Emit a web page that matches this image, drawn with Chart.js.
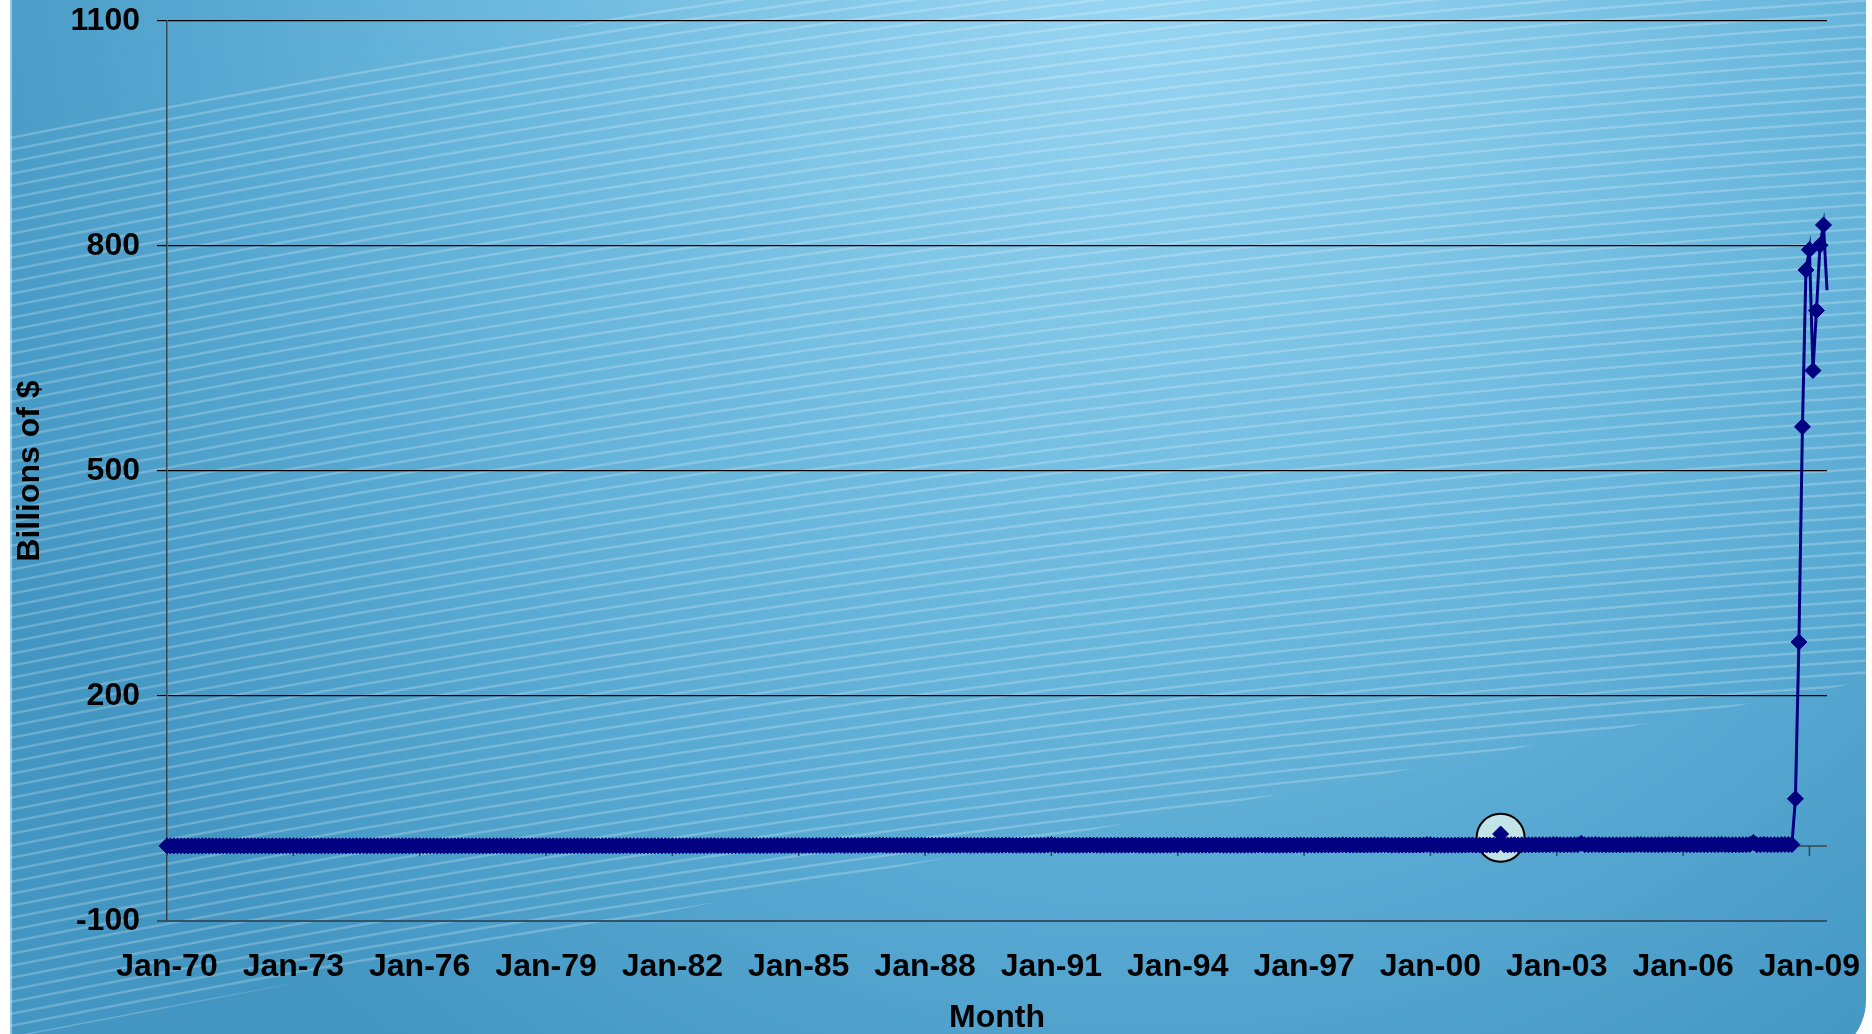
<!DOCTYPE html>
<html><head><meta charset="utf-8">
<script src="https://cdn.jsdelivr.net/npm/chart.js@4.4.1/dist/chart.umd.min.js"></script>
<style>html,body{margin:0;padding:0;background:#fff;overflow:hidden}#wrap{width:1872px;height:1034px;position:relative}canvas{display:block}</style>
</head><body><div id="wrap"><canvas id="c" width="1872" height="1034"></canvas></div>
<script>
// ---- data ----
const monthNames = ['Jan','Feb','Mar','Apr','May','Jun','Jul','Aug','Sep','Oct','Nov','Dec'];
const years = ['70','71','72','73','74','75','76','77','78','79','80','81','82','83','84','85','86','87','88','89','90','91','92','93','94','95','96','97','98','99','00','01','02','03','04','05','06','07','08','09'];
const monthsInLastYear = 6;
const categories = [];
years.forEach((yy, yi) => {
  const n = yi === years.length - 1 ? monthsInLastYear : 12;
  for (let m = 0; m < n; m++) categories.push(monthNames[m] + '-' + yy);
});
// Excess reserves, billions of $ (monthly)
const excessReserves = [
  0.20,0.15,0.18,0.16,0.19,0.14,0.17,0.15,0.21,0.16,0.19,0.27, // 1970
  0.24,0.17,0.20,0.15,0.18,0.16,0.19,0.14,0.20,0.17,0.21,0.28, // 1971
  0.25,0.16,0.19,0.17,0.20,0.15,0.18,0.16,0.22,0.18,0.20,0.30, // 1972
  0.26,0.18,0.21,0.16,0.22,0.17,0.20,0.15,0.23,0.19,0.22,0.31, // 1973
  0.27,0.19,0.22,0.18,0.21,0.16,0.24,0.17,0.25,0.20,0.23,0.29, // 1974
  0.28,0.20,0.24,0.19,0.23,0.18,0.22,0.19,0.26,0.21,0.24,0.32, // 1975
  0.27,0.21,0.23,0.18,0.24,0.19,0.23,0.18,0.25,0.22,0.25,0.33, // 1976
  0.26,0.19,0.22,0.17,0.21,0.18,0.20,0.17,0.24,0.19,0.22,0.30, // 1977
  0.27,0.20,0.23,0.19,0.22,0.18,0.21,0.19,0.25,0.20,0.24,0.34, // 1978
  0.30,0.22,0.26,0.21,0.25,0.20,0.24,0.21,0.28,0.23,0.27,0.38, // 1979
  0.36,0.27,0.31,0.29,0.33,0.30,0.35,0.28,0.37,0.32,0.39,0.52, // 1980
  0.44,0.30,0.34,0.28,0.31,0.27,0.30,0.29,0.33,0.31,0.36,0.45, // 1981
  0.43,0.35,0.39,0.33,0.40,0.37,0.42,0.38,0.46,0.41,0.48,0.62, // 1982
  0.55,0.42,0.46,0.41,0.45,0.43,0.47,0.44,0.51,0.48,0.53,0.66, // 1983
  0.60,0.49,0.54,0.50,0.58,0.62,0.81,0.55,0.60,0.57,0.63,0.78, // 1984
  0.72,0.61,0.66,0.63,0.70,0.68,0.75,0.71,0.79,0.74,0.82,1.21, // 1985
  0.95,0.78,0.85,0.82,0.90,0.87,0.94,0.89,1.02,0.96,1.05,1.44, // 1986
  1.12,0.86,0.93,0.91,0.98,0.88,0.95,0.90,1.01,0.97,1.03,1.25, // 1987
  1.10,0.87,0.94,0.89,0.96,0.90,0.97,0.92,1.04,0.95,1.02,1.21, // 1988
  1.06,0.84,0.91,0.86,0.93,0.88,0.95,0.89,1.00,0.94,1.01,1.18, // 1989
  1.12,0.89,0.95,0.90,0.98,0.93,1.00,0.95,1.06,0.99,1.08,1.47, // 1990
  2.04,1.08,1.02,0.96,1.04,0.98,1.05,0.99,1.10,1.03,1.12,1.35, // 1991
  1.22,0.97,1.04,0.99,1.06,1.01,1.08,1.02,1.13,1.07,1.16,1.41, // 1992
  1.18,0.94,1.01,0.96,1.03,0.98,1.05,1.00,1.11,1.04,1.12,1.34, // 1993
  1.20,0.96,1.03,0.98,1.05,1.00,1.07,1.01,1.12,1.06,1.14,1.38, // 1994
  1.16,0.93,1.00,0.95,1.02,0.97,1.04,0.98,1.09,1.03,1.11,1.30, // 1995
  1.24,1.01,1.09,1.04,1.12,1.06,1.14,1.08,1.19,1.13,1.22,1.45, // 1996
  1.32,1.10,1.18,1.13,1.21,1.15,1.23,1.17,1.29,1.22,1.31,1.55, // 1997
  1.41,1.18,1.26,1.20,1.29,1.23,1.31,1.25,1.38,1.30,1.40,1.62, // 1998
  1.35,1.12,1.20,1.15,1.23,1.17,1.25,1.19,1.31,1.24,1.36,1.85, // 1999
  1.64,1.05,1.12,1.07,1.14,1.09,1.16,1.10,1.21,1.15,1.24,1.48, // 2000
  1.42,1.18,1.26,1.21,1.29,1.24,1.32,1.27,16.0,1.55,1.43,1.69, // 2001
  1.72,1.48,1.56,1.51,1.59,1.53,1.61,1.55,1.67,1.60,1.69,1.95, // 2002
  1.86,1.59,1.67,1.62,1.70,1.64,1.72,3.65,1.80,1.73,1.82,2.08, // 2003
  1.78,1.52,1.60,1.55,1.63,1.57,1.65,1.59,1.71,1.64,1.73,1.98, // 2004
  1.84,1.58,1.66,1.61,1.69,1.63,1.71,1.65,2.12,1.70,1.79,2.04, // 2005
  1.87,1.61,1.69,1.64,1.72,1.66,1.74,1.68,1.80,1.73,1.82,2.06, // 2006
  1.83,1.57,1.65,1.60,1.68,1.62,1.70,2.10,4.80,1.72,1.81,2.18, // 2007
  1.76,1.67,1.82,1.74,1.90,1.96,1.88,1.91,63.0,272.0,559.0,768.0, // 2008
  795.0,634.0,714.0,801.0,828.0,741.0 // 2009
];
const xTickLabels = ['Jan-70','Jan-73','Jan-76','Jan-79','Jan-82','Jan-85','Jan-88','Jan-91','Jan-94','Jan-97','Jan-00','Jan-03','Jan-06','Jan-09'];
const yTicks = [-100, 200, 500, 800, 1100];
const highlightLabel = 'Sep-01';
const highlightCenterValue = 11;

// ---- decoration plugins ----
const background = {
  id: 'background',
  beforeDraw(chart) {
    const ctx = chart.ctx, W = chart.width, H = chart.height;
    ctx.save();
    ctx.fillStyle = '#ffffff';
    ctx.fillRect(0, 0, W, H);
    ctx.beginPath();
    ctx.moveTo(10, 0);
    ctx.lineTo(1866, 0);
    ctx.lineTo(1866, 1000);
    ctx.arc(1806, 1000, 60, 0, Math.PI / 2);
    ctx.lineTo(10, 1060);
    ctx.closePath();
    ctx.clip();
    ctx.save();
    ctx.translate(1150, -100);
    ctx.scale(1300 / 1400, 1);
    const g = ctx.createRadialGradient(0, 0, 0, 0, 0, 1400);
    g.addColorStop(0, '#9ddaf5');
    g.addColorStop(0.15, '#90d0ee');
    g.addColorStop(0.45, '#70bce0');
    g.addColorStop(0.75, '#55a7d1');
    g.addColorStop(1, '#4396c2');
    ctx.fillStyle = g;
    ctx.fillRect(-3000, -3000, 6000, 6000);
    ctx.restore();
    // stripes
    ctx.save();
    ctx.beginPath();
    ctx.moveTo(0, 135); ctx.lineTo(710, 0); ctx.lineTo(1872, 0); ctx.lineTo(1872, 680); ctx.lineTo(0, 1040);
    ctx.closePath();
    ctx.clip();
    ctx.strokeStyle = 'rgba(255,255,255,0.22)';
    ctx.lineWidth = 2.5;
    for (let k = -100; k < 1400; k += 12) {
      ctx.beginPath();
      ctx.moveTo(0, k);
      ctx.quadraticCurveTo(936, k - 187, 1872, k - 248);
      ctx.stroke();
    }
    ctx.restore();
    // light left strip
    ctx.fillStyle = 'rgba(220,245,250,0.5)';
    ctx.fillRect(10, 0, 2, H);
    ctx.restore();
  }
};

const zeroAxis = {
  id: 'zeroAxis',
  beforeDatasetsDraw(chart) {
    const ctx = chart.ctx, xs = chart.scales.x, ys = chart.scales.y, a = chart.chartArea;
    const y0 = ys.getPixelForValue(0);
    ctx.save();
    ctx.strokeStyle = '#3b4750';
    ctx.lineWidth = 1.5;
    ctx.beginPath();
    ctx.moveTo(a.left, y0); ctx.lineTo(a.right, y0);
    categories.forEach((c, i) => {
      if (xTickLabels.includes(c)) {
        const x = xs.getPixelForValue(i);
        ctx.moveTo(x, y0); ctx.lineTo(x, y0 + 10);
      }
    });
    ctx.stroke();
    // highlight circle
    const hi = categories.indexOf(highlightLabel);
    const cx = xs.getPixelForValue(hi), cy = ys.getPixelForValue(highlightCenterValue);
    ctx.beginPath();
    ctx.arc(cx, cy, 24, 0, Math.PI * 2);
    ctx.fillStyle = '#c2e4e8';
    ctx.fill();
    ctx.strokeStyle = '#000';
    ctx.lineWidth = 2;
    ctx.stroke();
    ctx.restore();
  }
};

const font = { family: '"Liberation Sans", Arial, sans-serif', weight: 'bold', size: 32 };
const lastIndex = excessReserves.length - 1;

new Chart(document.getElementById('c'), {
  type: 'line',
  data: {
    labels: categories,
    datasets: [{
      data: excessReserves,
      borderColor: '#000080',
      borderWidth: 3,
      pointStyle: 'rectRot',
      pointRadius: ctx => ctx.dataIndex === lastIndex ? 0 : 8,
      pointBackgroundColor: '#000080',
      pointBorderColor: '#000080',
      pointBorderWidth: 1,
      tension: 0,
      clip: 14
    }]
  },
  options: {
    responsive: false,
    animation: false,
    events: [],
    layout: { padding: { top: 21, right: 45, left: 0, bottom: 0 } },
    plugins: { legend: { display: false }, tooltip: { enabled: false } },
    scales: {
      x: {
        type: 'category',
        offset: false,
        grid: { display: false, drawTicks: false },
        border: { display: false },
        ticks: {
          autoSkip: false, maxRotation: 0, minRotation: 0, padding: 27,
          color: '#000', font: font,
          callback: function (value) {
            const lab = this.getLabelForValue(value);
            return xTickLabels.includes(lab) ? lab : '';
          }
        },
        title: { display: true, text: 'Month', color: '#000', font: Object.assign({}, font, { lineHeight: 1 }), padding: { top: 0, bottom: 0 } },
        afterFit(s) { s.height = 113; s.paddingLeft = 0; s.paddingRight = 0; }
      },
      y: {
        min: yTicks[0], max: yTicks[yTicks.length - 1],
        afterBuildTicks(s) { s.ticks = yTicks.map(v => ({ value: v })); },
        ticks: { stepSize: 300, padding: 17, color: '#000', font: font, callback: v => String(v) },
        grid: {
          color: ctx => (ctx.tick && ctx.tick.value === yTicks[0]) ? '#30536a' : '#000',
          lineWidth: ctx => (ctx.tick && ctx.tick.value === yTicks[0]) ? 2 : 1.2,
          tickLength: 10, drawTicks: true
        },
        border: { color: '#3b4750', width: 1.5 },
        title: { display: true, text: 'Billions of $', color: '#000', font: Object.assign({}, font, { lineHeight: 1 }), padding: { top: 14, bottom: 0 } },
        afterFit(s) { s.width = 167; s.paddingTop = 0; s.paddingBottom = 0; }
      }
    }
  },
  plugins: [background, zeroAxis]
});
</script>
</body></html>
